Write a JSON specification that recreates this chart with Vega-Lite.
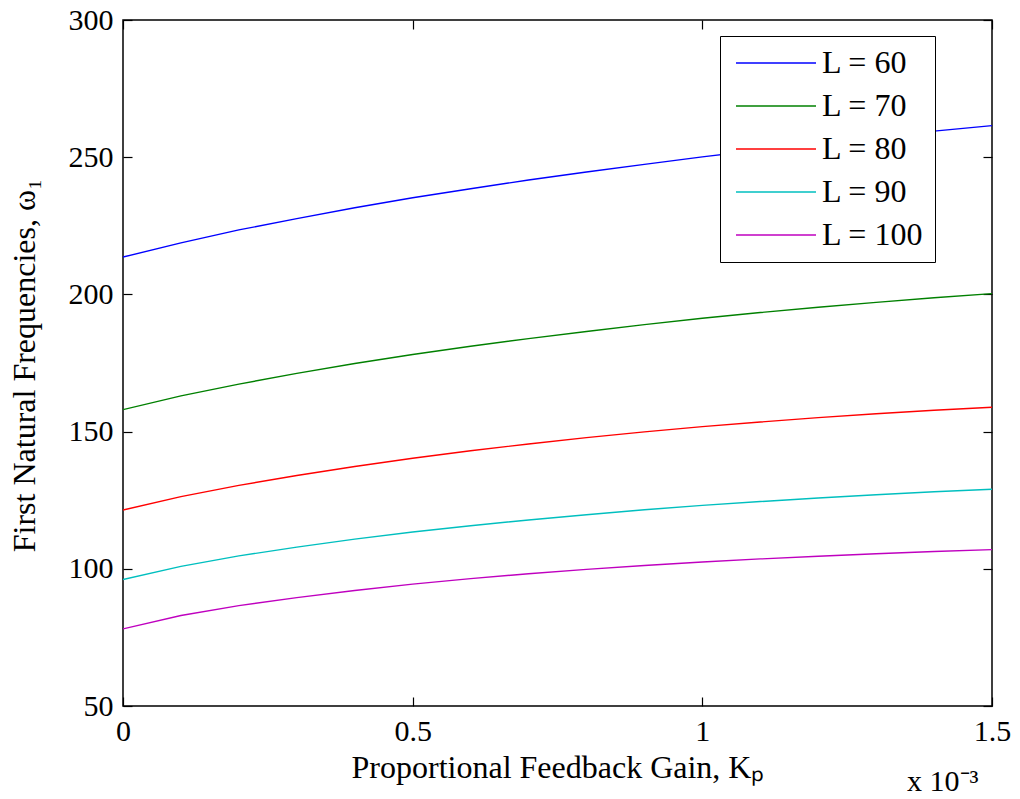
{
  "$schema": "https://vega.github.io/schema/vega-lite/v6.json",
  "autosize": "none",
  "width": 869,
  "height": 686,
  "padding": {"left": 123, "top": 20, "right": 28, "bottom": 93},
  "background": "white",
  "config": {
    "view": {"stroke": "black", "strokeWidth": 1.5},
    "font": "Liberation Serif",
    "axis": {
      "grid": false,
      "domain": false,
      "tickColor": "black",
      "tickWidth": 1.2,
      "tickSize": -9,
      "labelFont": "Liberation Serif",
      "labelFontSize": 30,
      "labelColor": "black",
      "titleFont": "Liberation Serif",
      "titleFontSize": 32,
      "titleFontWeight": "normal",
      "titleColor": "black"
    }
  },
  "data": {
    "values": [
      {"Kp": 0.0, "omega": 213.6, "series": "L = 60"},
      {"Kp": 0.1, "omega": 218.8, "series": "L = 60"},
      {"Kp": 0.2, "omega": 223.5, "series": "L = 60"},
      {"Kp": 0.3, "omega": 227.6, "series": "L = 60"},
      {"Kp": 0.4, "omega": 231.6, "series": "L = 60"},
      {"Kp": 0.5, "omega": 235.2, "series": "L = 60"},
      {"Kp": 0.6, "omega": 238.5, "series": "L = 60"},
      {"Kp": 0.7, "omega": 241.7, "series": "L = 60"},
      {"Kp": 0.8, "omega": 244.6, "series": "L = 60"},
      {"Kp": 0.9, "omega": 247.4, "series": "L = 60"},
      {"Kp": 1.0, "omega": 250.1, "series": "L = 60"},
      {"Kp": 1.1, "omega": 252.6, "series": "L = 60"},
      {"Kp": 1.2, "omega": 255.0, "series": "L = 60"},
      {"Kp": 1.3, "omega": 257.3, "series": "L = 60"},
      {"Kp": 1.4, "omega": 259.5, "series": "L = 60"},
      {"Kp": 1.5, "omega": 261.5, "series": "L = 60"},
      {"Kp": 0.0, "omega": 158.0, "series": "L = 70"},
      {"Kp": 0.1, "omega": 163.0, "series": "L = 70"},
      {"Kp": 0.2, "omega": 167.3, "series": "L = 70"},
      {"Kp": 0.3, "omega": 171.2, "series": "L = 70"},
      {"Kp": 0.4, "omega": 174.8, "series": "L = 70"},
      {"Kp": 0.5, "omega": 178.1, "series": "L = 70"},
      {"Kp": 0.6, "omega": 181.1, "series": "L = 70"},
      {"Kp": 0.7, "omega": 183.9, "series": "L = 70"},
      {"Kp": 0.8, "omega": 186.5, "series": "L = 70"},
      {"Kp": 0.9, "omega": 189.0, "series": "L = 70"},
      {"Kp": 1.0, "omega": 191.3, "series": "L = 70"},
      {"Kp": 1.1, "omega": 193.4, "series": "L = 70"},
      {"Kp": 1.2, "omega": 195.3, "series": "L = 70"},
      {"Kp": 1.3, "omega": 197.1, "series": "L = 70"},
      {"Kp": 1.4, "omega": 198.8, "series": "L = 70"},
      {"Kp": 1.5, "omega": 200.3, "series": "L = 70"},
      {"Kp": 0.0, "omega": 121.4, "series": "L = 80"},
      {"Kp": 0.1, "omega": 126.3, "series": "L = 80"},
      {"Kp": 0.2, "omega": 130.4, "series": "L = 80"},
      {"Kp": 0.3, "omega": 134.0, "series": "L = 80"},
      {"Kp": 0.4, "omega": 137.3, "series": "L = 80"},
      {"Kp": 0.5, "omega": 140.3, "series": "L = 80"},
      {"Kp": 0.6, "omega": 143.0, "series": "L = 80"},
      {"Kp": 0.7, "omega": 145.5, "series": "L = 80"},
      {"Kp": 0.8, "omega": 147.8, "series": "L = 80"},
      {"Kp": 0.9, "omega": 149.9, "series": "L = 80"},
      {"Kp": 1.0, "omega": 151.8, "series": "L = 80"},
      {"Kp": 1.1, "omega": 153.5, "series": "L = 80"},
      {"Kp": 1.2, "omega": 155.1, "series": "L = 80"},
      {"Kp": 1.3, "omega": 156.5, "series": "L = 80"},
      {"Kp": 1.4, "omega": 157.8, "series": "L = 80"},
      {"Kp": 1.5, "omega": 158.9, "series": "L = 80"},
      {"Kp": 0.0, "omega": 96.1, "series": "L = 90"},
      {"Kp": 0.1, "omega": 100.9, "series": "L = 90"},
      {"Kp": 0.2, "omega": 104.7, "series": "L = 90"},
      {"Kp": 0.3, "omega": 107.9, "series": "L = 90"},
      {"Kp": 0.4, "omega": 110.8, "series": "L = 90"},
      {"Kp": 0.5, "omega": 113.4, "series": "L = 90"},
      {"Kp": 0.6, "omega": 115.7, "series": "L = 90"},
      {"Kp": 0.7, "omega": 117.8, "series": "L = 90"},
      {"Kp": 0.8, "omega": 119.7, "series": "L = 90"},
      {"Kp": 0.9, "omega": 121.5, "series": "L = 90"},
      {"Kp": 1.0, "omega": 123.1, "series": "L = 90"},
      {"Kp": 1.1, "omega": 124.5, "series": "L = 90"},
      {"Kp": 1.2, "omega": 125.8, "series": "L = 90"},
      {"Kp": 1.3, "omega": 127.0, "series": "L = 90"},
      {"Kp": 1.4, "omega": 128.1, "series": "L = 90"},
      {"Kp": 1.5, "omega": 129.0, "series": "L = 90"},
      {"Kp": 0.0, "omega": 78.1, "series": "L = 100"},
      {"Kp": 0.1, "omega": 83.0, "series": "L = 100"},
      {"Kp": 0.2, "omega": 86.6, "series": "L = 100"},
      {"Kp": 0.3, "omega": 89.5, "series": "L = 100"},
      {"Kp": 0.4, "omega": 92.1, "series": "L = 100"},
      {"Kp": 0.5, "omega": 94.4, "series": "L = 100"},
      {"Kp": 0.6, "omega": 96.4, "series": "L = 100"},
      {"Kp": 0.7, "omega": 98.2, "series": "L = 100"},
      {"Kp": 0.8, "omega": 99.8, "series": "L = 100"},
      {"Kp": 0.9, "omega": 101.2, "series": "L = 100"},
      {"Kp": 1.0, "omega": 102.5, "series": "L = 100"},
      {"Kp": 1.1, "omega": 103.6, "series": "L = 100"},
      {"Kp": 1.2, "omega": 104.6, "series": "L = 100"},
      {"Kp": 1.3, "omega": 105.5, "series": "L = 100"},
      {"Kp": 1.4, "omega": 106.3, "series": "L = 100"},
      {"Kp": 1.5, "omega": 107.0, "series": "L = 100"}
    ]
  },
  "resolve": {
    "scale": {"x": "independent", "y": "independent"},
    "axis": {"x": "independent", "y": "independent"}
  },
  "layer": [
    {
      "mark": {"type": "line", "strokeWidth": 1.4, "clip": true},
      "encoding": {
        "x": {
          "field": "Kp",
          "type": "quantitative",
          "scale": {"domain": [0, 1.5], "nice": false, "zero": false},
          "axis": {
            "orient": "bottom",
            "values": [0, 0.5, 1, 1.5],
            "format": "~g",
            "labelPadding": 19,
            "labelFlush": false,
            "title": "Proportional Feedback Gain, Kₚ",
            "titleY": 71,
            "titleBaseline": "alphabetic"
          }
        },
        "y": {
          "field": "omega",
          "type": "quantitative",
          "scale": {"domain": [50, 300], "nice": false, "zero": false},
          "axis": {
            "orient": "left",
            "values": [50, 100, 150, 200, 250, 300],
            "labelPadding": 19,
            "labelFlush": false,
            "title": "First Natural Frequencies,  ω₁",
            "titleAngle": -90,
            "titleX": -89,
            "titleY": 345,
            "titleAlign": "center",
            "titleBaseline": "alphabetic"
          }
        },
        "color": {
          "field": "series",
          "type": "nominal",
          "scale": {
            "domain": ["L = 60", "L = 70", "L = 80", "L = 90", "L = 100"],
            "range": ["#0000FF", "#008000", "#FF0000", "#00BFBF", "#BF00BF"]
          },
          "legend": {
            "title": null,
            "orient": "none",
            "legendX": 597,
            "legendY": 16,
            "symbolType": "M-1.1,0H6.9",
            "symbolSize": 400,
            "symbolStrokeWidth": 1.5,
            "labelFont": "Liberation Serif",
            "labelFontSize": 32,
            "labelColor": "black",
            "labelOffset": 59,
            "rowPadding": 11,
            "padding": 11,
            "strokeColor": "black",
            "fillColor": "white"
          }
        }
      }
    },
    {
      "mark": {"type": "line", "strokeOpacity": 0},
      "encoding": {
        "x": {
          "field": "Kp",
          "type": "quantitative",
          "scale": {"domain": [0, 1.5], "nice": false, "zero": false},
          "axis": {
            "orient": "top",
            "values": [0, 0.5, 1, 1.5],
            "labels": false,
            "title": "x 10⁻³",
            "titleX": 855,
            "titleY": 770,
            "titleAlign": "right",
            "titleBaseline": "alphabetic",
            "titleFontSize": 30
          }
        },
        "y": {
          "field": "omega",
          "type": "quantitative",
          "scale": {"domain": [50, 300], "nice": false, "zero": false},
          "axis": {
            "orient": "right",
            "values": [50, 100, 150, 200, 250, 300],
            "labels": false,
            "title": null
          }
        },
        "detail": {"field": "series"}
      }
    }
  ]
}
